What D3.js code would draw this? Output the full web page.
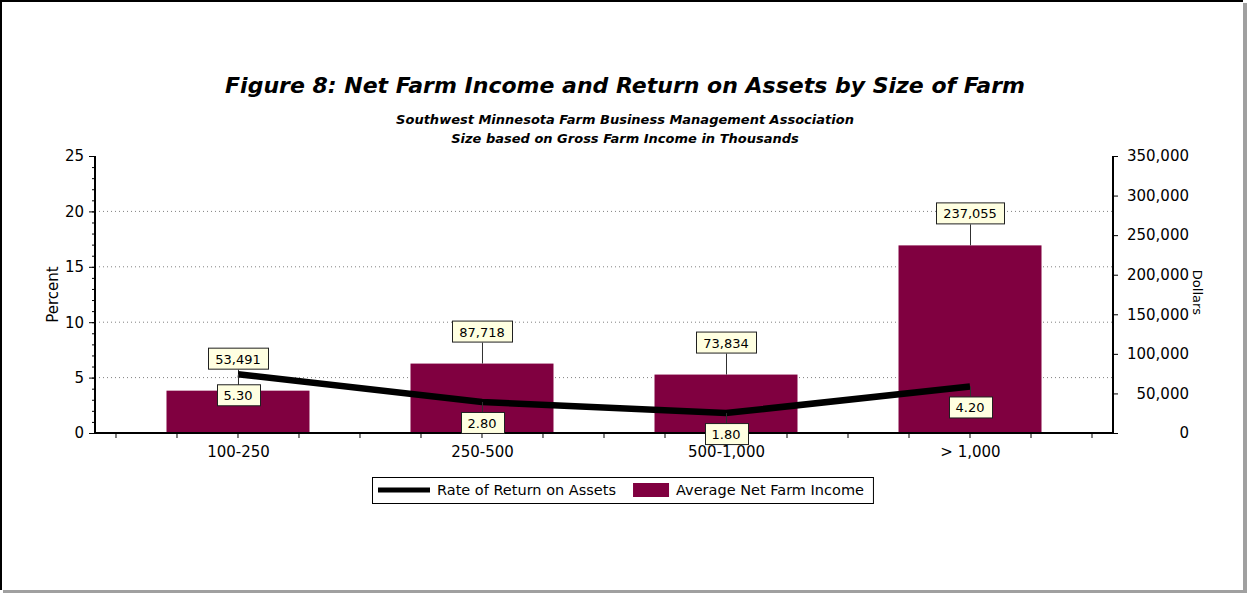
<!DOCTYPE html>
<html>
<head>
<meta charset="utf-8">
<script src="https://cdn.jsdelivr.net/npm/d3@7"></script>
<style>
  body { margin: 0; background: #fff; }
  text { font-family: 'DejaVu Sans', sans-serif; fill: #000; }
</style>
</head>
<body>
<div id="chart"></div>
<script>
const categories = ['100-250', '250-500', '500-1,000', '> 1,000'];
const netFarmIncome = [53491, 87718, 73834, 237055];
const returnOnAssets = [5.3, 2.8, 1.8, 4.2];
const percentTicks = [0, 5, 10, 15, 20, 25];
const dollarTicks = [0, 50000, 100000, 150000, 200000, 250000, 300000, 350000];

const width = 1247;
const height = 593;
const plot = { left: 95, right: 1113, top: 156, bottom: 433 };
const barColor = '#800040';
const boxFill = '#ffffe1';

const svg = d3
  .select('#chart')
  .append('svg')
  .attr('width', width)
  .attr('height', height);

// frame
svg.append('rect').attr('x', 3).attr('y', 3).attr('width', width - 3).attr('height', height - 3).attr('fill', '#a0a0a0');
svg.append('rect').attr('x', 0).attr('y', 0).attr('width', width - 4).attr('height', height - 3).attr('fill', '#fff');
svg.append('path').attr('d', `M1,${height - 3}V1H${width - 4}`).attr('fill', 'none').attr('stroke', '#000').attr('stroke-width', 2);

const x = d3.scalePoint().domain(categories).range([plot.left, plot.right]).padding(0.586);
const yL = d3.scaleLinear().domain([0, 25]).range([plot.bottom, plot.top]);
const yR = d3.scaleLinear().domain([0, 350000]).range([plot.bottom, plot.top]);
const barW = x.step() * 0.586;

// titles
svg.append('text').attr('x', 625).attr('y', 93).attr('text-anchor', 'middle')
  .style('font-size', '22px').style('font-weight', 700).style('font-style', 'italic')
  .text('Figure 8: Net Farm Income and Return on Assets by Size of Farm');
svg.append('text').attr('x', 625).attr('y', 124).attr('text-anchor', 'middle')
  .style('font-size', '13px').style('font-weight', 700).style('font-style', 'italic')
  .text('Southwest Minnesota Farm Business Management Association');
svg.append('text').attr('x', 625).attr('y', 143).attr('text-anchor', 'middle')
  .style('font-size', '13px').style('font-weight', 700).style('font-style', 'italic')
  .text('Size based on Gross Farm Income in Thousands');

// grid
svg.append('g')
  .selectAll('line')
  .data(percentTicks.filter((d) => d > 0 && d < 25))
  .enter()
  .append('line')
  .attr('x1', plot.left).attr('x2', plot.right)
  .attr('y1', (d) => yL(d)).attr('y2', (d) => yL(d))
  .attr('stroke', '#808080').attr('stroke-width', 1).attr('stroke-dasharray', '1 3');

// bars
svg.append('g')
  .selectAll('rect')
  .data(netFarmIncome)
  .enter()
  .append('rect')
  .attr('x', (d, i) => x(categories[i]) - barW / 2)
  .attr('y', (d) => yR(d))
  .attr('width', barW)
  .attr('height', (d) => plot.bottom - yR(d))
  .attr('fill', barColor);

// leaders for bar labels
svg.append('g')
  .selectAll('line')
  .data(netFarmIncome)
  .enter()
  .append('line')
  .attr('x1', (d, i) => x(categories[i]) + 0.5).attr('x2', (d, i) => x(categories[i]) + 0.5)
  .attr('y1', (d) => yR(d)).attr('y2', (d) => yR(d) - 21)
  .attr('stroke', '#303030').attr('stroke-width', 1);

// line
const line = d3.line().x((d, i) => x(categories[i])).y((d) => yL(d));
svg.append('path')
  .datum(returnOnAssets)
  .attr('d', line)
  .attr('fill', 'none')
  .attr('stroke', '#000')
  .attr('stroke-width', 6.5);

svg.append('g')
  .selectAll('line')
  .data(returnOnAssets)
  .enter()
  .append('line')
  .attr('x1', (d, i) => x(categories[i]) + 0.5).attr('x2', (d, i) => x(categories[i]) + 0.5)
  .attr('y1', (d) => yL(d)).attr('y2', (d) => yL(d) + 10)
  .attr('stroke', '#303030').attr('stroke-width', 1);

// axes
const axisStyle = (g) => {
  g.select('.domain').remove();
  g.selectAll('line').attr('stroke', '#000');
  g.selectAll('text').style('font-family', "'DejaVu Sans', sans-serif").style('font-size', '15px').attr('fill', '#000');
};

svg.append('g').attr('transform', `translate(${plot.left},0)`)
  .call(d3.axisLeft(yL).tickValues(d3.range(0, 26)).tickSize(3).tickFormat(''))
  .call(axisStyle);
svg.append('g').attr('transform', `translate(${plot.left},0)`)
  .call(d3.axisLeft(yL).tickValues(percentTicks).tickSize(6).tickPadding(5))
  .call(axisStyle);

svg.append('g').attr('transform', `translate(${plot.right},0)`)
  .call(d3.axisRight(yR).tickValues(dollarTicks).tickSize(5).tickFormat(d3.format(',')))
  .call(axisStyle)
  .selectAll('text').attr('text-anchor', 'end').attr('x', 76);

const minorX = [];
categories.forEach((c) => {
  [-2, -1, 0, 1].forEach((k) => minorX.push(x(c) + (k * x.step()) / 4));
});
minorX.push(x(categories[categories.length - 1]) + x.step() / 2);
svg.append('g')
  .selectAll('line')
  .data(minorX)
  .enter()
  .append('line')
  .attr('x1', (d) => d).attr('x2', (d) => d)
  .attr('y1', plot.bottom).attr('y2', plot.bottom + 5)
  .attr('stroke', '#000');

svg.append('g').attr('transform', `translate(0,${plot.bottom})`)
  .call(d3.axisBottom(x).tickSize(0).tickPadding(13))
  .call(axisStyle);

// axis lines
svg.append('path')
  .attr('d', `M${plot.left},${plot.top}V${plot.bottom}H${plot.right}V${plot.top}`)
  .attr('fill', 'none').attr('stroke', '#000').attr('stroke-width', 2);

// axis titles
svg.append('text').attr('transform', `translate(58,${(plot.top + plot.bottom) / 2}) rotate(-90)`)
  .attr('text-anchor', 'middle').style('font-size', '15px').text('Percent');
svg.append('text').attr('transform', `translate(1193,${(plot.top + plot.bottom) / 2 - 2}) rotate(90)`)
  .attr('text-anchor', 'middle').style('font-size', '13px').text('Dollars');

// value boxes
function labelBox(cx, yTop, txt) {
  const g = svg.append('g');
  const rect = g.append('rect');
  const t = g.append('text').attr('x', cx).attr('y', yTop + 16).attr('text-anchor', 'middle')
    .style('font-size', '13px').text(txt);
  const w = t.node().getComputedTextLength() + 14;
  rect.attr('x', Math.round(cx - w / 2) + 0.5).attr('y', yTop + 0.5).attr('width', Math.round(w)).attr('height', 21)
    .attr('fill', boxFill).attr('stroke', '#202020');
}
netFarmIncome.forEach((d, i) => labelBox(x(categories[i]), yR(d) - 43, d3.format(',')(d)));
returnOnAssets.forEach((d, i) => labelBox(x(categories[i]), yL(d) + 10, d3.format('.2f')(d)));

// legend
const legend = svg.append('g');
const legendBox = legend.append('rect');
legend.append('line').attr('x1', 378).attr('x2', 430).attr('y1', 490).attr('y2', 490).attr('stroke', '#000').attr('stroke-width', 5);
const t1 = legend.append('text').attr('x', 437).attr('y', 495).style('font-size', '14.5px').text('Rate of Return on Assets');
const sx = 437 + t1.node().getComputedTextLength() + 17;
legend.append('rect').attr('x', sx).attr('y', 483).attr('width', 36).attr('height', 14).attr('fill', barColor);
const t2 = legend.append('text').attr('x', sx + 43).attr('y', 495).style('font-size', '14.5px').text('Average Net Farm Income');
const endX = sx + 43 + t2.node().getComputedTextLength() + 9;
legendBox.attr('x', 372.5).attr('y', 477.5).attr('width', endX - 372).attr('height', 26).attr('fill', '#fff').attr('stroke', '#000');
</script>
</body>
</html>
